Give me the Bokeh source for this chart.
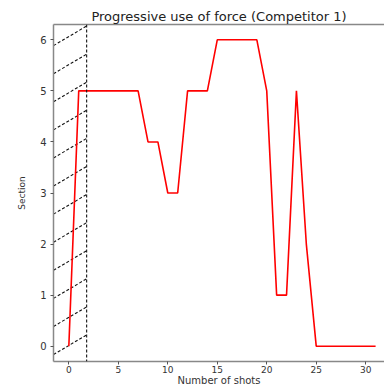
import numpy as np
from bokeh.plotting import figure
from bokeh.models import Range1d, Span, FixedTicker, LinearAxis
from bokeh.embed import file_html
from bokeh.resources import INLINE

shots = list(range(32))
section = [0, 5, 5, 5, 5, 5, 5, 5, 4, 4, 3, 3, 5, 5, 5, 6, 6, 6, 6, 6,
           5, 1, 1, 5, 2, 0, 0, 0, 0, 0, 0, 0]
x_ticks = [0, 5, 10, 15, 20, 25, 30]
y_ticks = [0, 1, 2, 3, 4, 5, 6]
hatch_end = 1.8

x_lo, x_hi = -1.55, 31.9
y_lo, y_hi = -0.3, 6.3

p = figure(width=384, height=388, output_backend="svg", toolbar_location=None,
           x_range=Range1d(x_lo, x_hi), y_range=Range1d(y_lo, y_hi),
           min_border_left=53, min_border_right=0, min_border_top=24,
           min_border_bottom=26, title="Progressive use of force (Competitor 1)")

bottom_axis = p.below[0]
left_axis = p.left[0]

p.title.align = "center"
p.title.text_font = "DejaVu Sans"
p.title.text_font_size = "13px"
p.title.text_font_style = "normal"
p.title.text_color = "#222222"
p.title.offset = 0
p.title.standoff = 1

p.xgrid.visible = False
p.ygrid.visible = False
p.outline_line_color = None

# top spine
top = LinearAxis(ticker=FixedTicker(ticks=[]), axis_line_color="#888888",
                 axis_line_width=1.5, major_tick_line_color=None,
                 minor_tick_line_color=None, major_label_text_font_size="0px")
p.add_layout(top, "above")

# hatched region (dashed diagonal lines)
step = 0.55
rise = 0.384
starts = np.arange(5.886 - 13 * step, y_hi + 0.1, step)
p.segment(x0=[x_lo] * len(starts), y0=starts, x1=[hatch_end] * len(starts),
          y1=starts + rise, line_color="#111111", line_width=1.1, line_dash="3 2")
p.add_layout(Span(location=hatch_end, dimension="height", line_color="#111111",
                  line_width=1.1, line_dash="3 2"))

p.line(shots, section, line_color="red", line_width=1.6)

for ax in (bottom_axis, left_axis):
    ax.axis_line_color = "#888888"
    ax.axis_line_width = 1.5
    ax.major_tick_line_color = "#555555"
    ax.major_tick_out = 3
    ax.major_tick_in = 0
    ax.minor_tick_line_color = None
    ax.major_label_text_font = "DejaVu Sans"
    ax.major_label_text_font_size = "10px"
    ax.major_label_text_color = "#333333"
    ax.axis_label_text_font = "DejaVu Sans"
    ax.axis_label_text_font_size = "10px"
    ax.axis_label_text_font_style = "normal"
    ax.axis_label_text_color = "#333333"
    ax.major_label_standoff = 1
    ax.axis_label_standoff = 0

bottom_axis.ticker = FixedTicker(ticks=x_ticks)
bottom_axis.major_label_text_font_size = "9px"
bottom_axis.axis_label_standoff = -1
left_axis.ticker = FixedTicker(ticks=y_ticks)
bottom_axis.axis_label = "Number of shots"
left_axis.axis_label = "Section"
left_axis.axis_label_standoff = 10
left_axis.axis_label_text_font_size = "9px"
left_axis.major_label_standoff = 4
left_axis.major_label_orientation = "horizontal"

open("out.html", "w").write(file_html(p, INLINE))
